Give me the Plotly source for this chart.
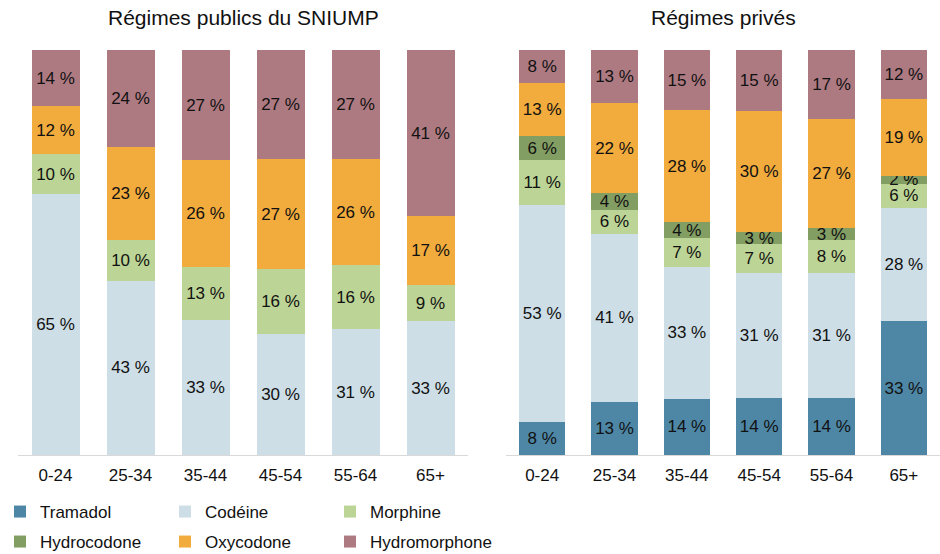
import plotly.graph_objects as go

ages = ["0-24", "25-34", "35-44", "45-54", "55-64", "65+"]
drugs = ["Tramadol", "Codéine", "Morphine", "Hydrocodone", "Oxycodone", "Hydromorphone"]
colors = ["#4e87a6", "#cddee6", "#bcd495", "#839e63", "#f2ab3d", "#ae7a82"]

# Régimes publics du SNIUMP
pub_tramadol = [0, 0, 0, 0, 0, 0]
pub_codeine = [65, 43, 33, 30, 31, 33]
pub_morphine = [10, 10, 13, 16, 16, 9]
pub_hydrocodone = [0, 0, 0, 0, 0, 0]
pub_oxycodone = [12, 23, 26, 27, 26, 17]
pub_hydromorphone = [14, 24, 27, 27, 27, 41]

# Régimes privés
priv_tramadol = [8, 13, 14, 14, 14, 33]
priv_codeine = [53, 41, 33, 31, 31, 28]
priv_morphine = [11, 6, 7, 7, 8, 6]
priv_hydrocodone = [6, 4, 4, 3, 3, 2]
priv_oxycodone = [13, 22, 28, 30, 27, 19]
priv_hydromorphone = [8, 13, 15, 15, 17, 12]

pub = [pub_tramadol, pub_codeine, pub_morphine, pub_hydrocodone, pub_oxycodone, pub_hydromorphone]
priv = [priv_tramadol, priv_codeine, priv_morphine, priv_hydrocodone, priv_oxycodone, priv_hydromorphone]

FONT = "Liberation Sans, Arial, sans-serif"
fig = go.Figure()
txtfont = dict(family=FONT, size=17, color="#111111")

for i, name in enumerate(drugs):
    vals = pub[i]
    if any(v > 0 for v in vals):
        fig.add_trace(go.Bar(
            x=ages, y=vals, name=name, marker=dict(color=colors[i], line=dict(width=0)),
            text=[f"{v} %" if v > 0 else "" for v in vals],
            textposition="inside", insidetextanchor="middle", textangle=0,
            textfont=txtfont, xaxis="x", yaxis="y", showlegend=False,
            legendgroup=name, hoverinfo="skip"))

for i, name in enumerate(drugs):
    vals = priv[i]
    fig.add_trace(go.Bar(
        x=ages, y=vals, name=name, marker=dict(color=colors[i], line=dict(width=0)),
        text=[f"{v} %" for v in vals],
        textposition="inside", insidetextanchor="middle", textangle=0,
        textfont=txtfont, xaxis="x2", yaxis="y2", showlegend=True,
        legendgroup=name, legend="legend" if i < 3 else "legend2",
        hoverinfo="skip"))

axis_common = dict(showgrid=False, zeroline=False, showline=True, linecolor="#d9d9d9",
                   linewidth=1, ticks="", tickfont=dict(family=FONT, size=17, color="#111111"),
                   ticklabelstandoff=5, fixedrange=True)
yaxis_common = dict(showgrid=False, zeroline=False, showline=False, showticklabels=False,
                    range=[0, 100], fixedrange=True)

legend_common = dict(orientation="h", xref="container", yref="container",
                     xanchor="left", yanchor="middle", entrywidth=120, entrywidthmode="pixels",
                     font=dict(family=FONT, size=17, color="#111111"),
                     bgcolor="rgba(0,0,0,0)", itemwidth=30, tracegroupgap=0)

fig.update_layout(
    width=940, height=554,
    margin=dict(l=0, r=0, t=50, b=99),
    paper_bgcolor="white", plot_bgcolor="white",
    barmode="stack", barnorm="percent", bargap=0.36,
    uniformtext=dict(minsize=17, mode="show"),
    xaxis=dict(domain=[18/940, 468/940], anchor="y", **axis_common),
    yaxis=dict(domain=[0, 1], anchor="x", **yaxis_common),
    xaxis2=dict(domain=[506/940, 1.0], anchor="y2", **axis_common),
    yaxis2=dict(domain=[0, 1], anchor="x2", **yaxis_common),
    legend=dict(x=0.0, y=(554-512)/554, **legend_common),
    legend2=dict(x=0.0, y=(554-542)/554, **legend_common),
    annotations=[
        dict(text="Régimes publics du SNIUMP", x=0.5*(18+468)/940, xref="paper",
             y=1 + 32/405, yref="paper", showarrow=False, xanchor="center", yanchor="middle",
             font=dict(family=FONT, size=21, color="#111111")),
        dict(text="Régimes privés", x=0.5*(506+940)/940, xref="paper",
             y=1 + 32/405, yref="paper", showarrow=False, xanchor="center", yanchor="middle",
             font=dict(family=FONT, size=21, color="#111111")),
    ],
)

fig.write_html("out.html", config={"displayModeBar": False},
               post_script="document.body.style.margin='0';")
